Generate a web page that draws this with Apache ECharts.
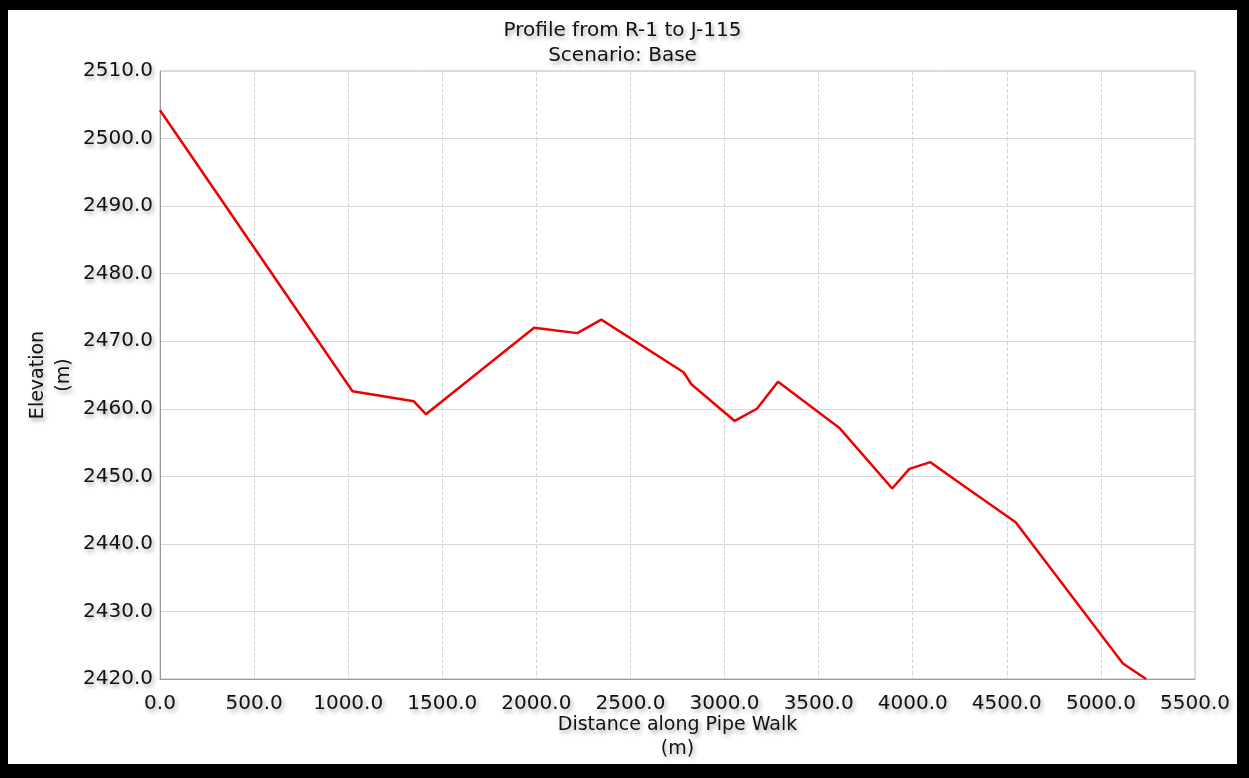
<!DOCTYPE html>
<html>
<head>
<meta charset="utf-8">
<script src="https://cdn.jsdelivr.net/npm/echarts@6/dist/echarts.min.js"></script>
<style>
  html, body { margin: 0; padding: 0; background: #000; }
  #chart_view { position: absolute; left: 8px; top: 10px; width: 1229px; height: 754px; background: #fff; }
</style>
</head>
<body>
<div id="chart_view"></div>
<script type="text/javascript">
  // distance along pipe walk (m) and elevation (m)
  var distance = [0, 1023, 1349, 1413, 1988, 2218, 2345, 2782, 2825, 3054, 3172, 3284, 3609, 3891, 3982, 4094, 4270, 4547, 5117, 5240];
  var elevation = [2504.2, 2462.6, 2461.1, 2459.2, 2472.0, 2471.2, 2473.2, 2465.4, 2463.6, 2458.2, 2460.0, 2464.0, 2457.2, 2448.2, 2451.1, 2452.1, 2448.6, 2443.2, 2422.3, 2420.0];
  var xTicks = [0, 500, 1000, 1500, 2000, 2500, 3000, 3500, 4000, 4500, 5000, 5500];
  var yTicks = [2420, 2430, 2440, 2450, 2460, 2470, 2480, 2490, 2500, 2510];

  var points = [];
  for (var i = 0; i < distance.length; i++) {
    points.push([distance[i], elevation[i]]);
  }

  var labelStyle = {
    color: '#111',
    fontFamily: 'DejaVu Sans, Arial, sans-serif',
    fontSize: 20,
    textShadowColor: 'rgba(0,0,0,0.35)',
    textShadowBlur: 4,
    textShadowOffsetX: 2,
    textShadowOffsetY: 3
  };

  var myChart = echarts.init(document.getElementById('chart_view'));
  var option = {
    animation: false,
    title: {
      text: 'Profile from R-1 to J-115\nScenario: Base',
      left: 'center',
      top: 3,
      textStyle: {
        fontFamily: 'DejaVu Sans, Arial, sans-serif',
        fontSize: 20,
        fontWeight: 'normal',
        color: '#111',
        lineHeight: 25,
        textShadowColor: 'rgba(0,0,0,0.35)',
        textShadowBlur: 4,
        textShadowOffsetX: 2,
        textShadowOffsetY: 3
      }
    },
    grid: {
      left: 152,
      right: 42,
      top: 61,
      bottom: 85,
      outerBoundsMode: 'none',
      show: true,
      borderColor: '#bbb',
      borderWidth: 1
    },
    xAxis: {
      type: 'value',
      min: xTicks[0],
      max: xTicks[xTicks.length - 1],
      interval: 500,
      name: 'Distance along Pipe Walk\n(m)',
      nameLocation: 'middle',
      nameMoveOverlap: false,
      nameGap: 34,
      nameTextStyle: Object.assign({}, labelStyle, { fontSize: 19, lineHeight: 24 }),
      axisLine: { lineStyle: { color: '#999' } },
      axisTick: { show: false },
      axisLabel: Object.assign({}, labelStyle, {
        margin: 15,
        formatter: function (v) { return v.toFixed(1); }
      }),
      splitLine: { show: true, lineStyle: { color: '#d4d4d4', type: [4, 2] } }
    },
    yAxis: {
      type: 'value',
      min: yTicks[0],
      max: yTicks[yTicks.length - 1],
      interval: 10,
      name: 'Elevation\n(m)',
      nameLocation: 'middle',
      nameMoveOverlap: false,
      nameGap: 83,
      nameRotate: 90,
      nameTextStyle: Object.assign({}, labelStyle, { fontSize: 19, lineHeight: 26 }),
      axisLine: { show: true, lineStyle: { color: '#999' } },
      axisTick: { show: false },
      axisLabel: Object.assign({}, labelStyle, {
        margin: 7,
        formatter: function (v) { return v.toFixed(1); }
      }),
      splitLine: { show: true, lineStyle: { color: '#d8d8d8' } }
    },
    series: [
      {
        type: 'line',
        data: points,
        showSymbol: false,
        lineStyle: { color: '#ee0000', width: 2.5 }
      }
    ]
  };
  myChart.setOption(option);
</script>
</body>
</html>
